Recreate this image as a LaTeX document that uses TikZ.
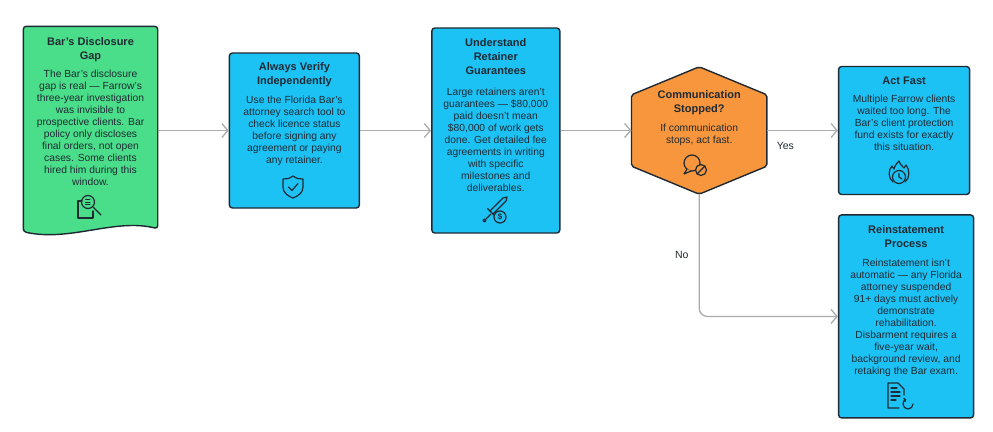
\documentclass[tikz,border=0pt]{standalone}
\usepackage{fontspec}
\setmainfont{Liberation Sans}
\usetikzlibrary{shapes,arrows,arrows.meta,positioning}
\definecolor{gapgreen}{HTML}{4ADE8A}
\definecolor{stepblue}{HTML}{1DC2F5}
\definecolor{askorange}{HTML}{F7963C}
\definecolor{edge}{HTML}{1E2933}
\definecolor{wire}{HTML}{ABABAB}
\definecolor{ink}{HTML}{1F2A33}
\tikzstyle{block} = [rectangle, draw=edge, fill=stepblue, line width=1.4pt,
    rounded corners=3pt, inner sep=0pt]
\tikzstyle{line} = [draw=wire, line width=1.3pt, -{Straight Barb[length=6pt,width=14pt]}]
\tikzstyle{title} = [text=ink, font=\fontsize{11}{13.8}\selectfont\bfseries,
    align=center, anchor=north, inner sep=0pt]
\tikzstyle{body} = [text=ink, font=\fontsize{10.3}{12}\selectfont,
    align=center, anchor=north, inner sep=0pt]
\tikzstyle{answer} = [text=ink, font=\fontsize{10.5}{12}\selectfont, inner sep=0pt]
\tikzstyle{icon} = [draw=ink, line width=1.2pt, line cap=round, line join=round]

\begin{document}
\begin{tikzpicture}[x=1pt, y=-1pt, node distance=71pt]
		\useasboundingbox (0,0) rectangle (993,431);

		\node [block, draw=none, fill=none, minimum width=133pt, minimum height=207pt] (gap) at (90.5,130.5) {};
		\draw [block, fill=gapgreen] ([yshift=3pt]gap.south west) -- (gap.north west) -- (gap.north east)
			-- ([yshift=6pt]gap.south east) .. controls (115,218) and (70,242) .. ([yshift=3pt]gap.south west) -- cycle;
		\node [block, minimum width=130pt, minimum height=155pt, right=of gap] (verify) {};
		\node [block, minimum width=128pt, minimum height=205pt, right=of verify] (retainer) {};
		\node [inner sep=0pt, minimum width=135pt, minimum height=127pt, right=of retainer] (ask) {};
		\draw [block, fill=askorange, rounded corners=2pt] (ask.north) -- ([yshift=-28pt]ask.north east)
			-- ([yshift=28pt]ask.south east) -- (ask.south) -- ([yshift=28pt]ask.south west)
			-- ([yshift=-28pt]ask.north west) -- cycle;
		\node [block, minimum width=131pt, minimum height=128pt, right=of ask] (fast) {};
		\node [block, minimum width=135pt, minimum height=203pt, below=19pt of fast.south west, anchor=north west] (reinstate) {};

		\node [title, below=11pt of gap.north] (gap-title) {Bar's Disclosure\\Gap};
		\node [body, below=43.5pt of gap.north] (gap-text) {The Bar's disclosure\\gap is real — Farrow's\\three-year investigation\\was invisible to\\prospective clients. Bar\\policy only discloses\\final orders, not open\\cases. Some clients\\hired him during this\\window.};
		\node [title, below=10pt of verify.north] (verify-title) {Always Verify\\Independently};
		\node [body, below=43.5pt of verify.north] (verify-text) {Use the Florida Bar's\\attorney search tool to\\check licence status\\before signing any\\agreement or paying\\any retainer.};
		\node [title, below=11pt of retainer.north] (retainer-title) {Understand\\Retainer\\Guarantees};
		\node [body, below=60.5pt of retainer.north] (retainer-text) {Large retainers aren't\\guarantees — \$80,000\\paid doesn't mean\\\$80,000 of work gets\\done. Get detailed fee\\agreements in writing\\with specific\\milestones and\\deliverables.};
		\node [title, below=24pt of ask.north] (ask-title) {Communication\\Stopped?};
		\node [body, below=57.5pt of ask.north] (ask-text) {If communication\\stops, act fast.};
		\node [title, below=11pt of fast.north] (fast-title) {Act Fast};
		\node [body, below=29.5pt of fast.north] (fast-text) {Multiple Farrow clients\\waited too long. The\\Bar's client protection\\fund exists for exactly\\this situation.};
		\node [title, below=11pt of reinstate.north] (reinstate-title) {Reinstatement\\Process};
		\node [body, below=44.5pt of reinstate.north] (reinstate-text) {Reinstatement isn't\\automatic — any Florida\\attorney suspended\\91+ days must actively\\demonstrate\\rehabilitation.\\Disbarment requires a\\five-year wait,\\background review, and\\retaking the Bar exam.};

		% icons
		\begin{scope}[shift={(90,207)}]
			\draw [icon] (-8,-6) -- (-12,-6) -- (-12,11) -- (3,11) -- (3,4);
			\draw [icon] (-2,-5) circle (6.5pt);
			\draw [icon] (3,0) -- (11,8);
			\draw [icon, line width=1pt] (-4.5,-7.5) -- (0,-7.5) (-4.5,-5) -- (0,-5) (-4.5,-2.5) -- (0,-2.5);
		\end{scope}
		\begin{scope}[shift={(293,187)}]
			\draw [icon] (0,-11) .. controls (-4,-8) and (-7,-8) .. (-10,-8) -- (-10,0)
				.. controls (-10,6) and (-5,9) .. (0,11) .. controls (5,9) and (10,6) .. (10,0)
				-- (10,-8) .. controls (7,-8) and (4,-8) .. cycle;
			\draw [icon] (-4.5,0) -- (-1,3.5) -- (5,-3.5);
		\end{scope}
		\begin{scope}[shift={(493,212)}]
			\draw [icon] (-3,-1) -- (10,-14) -- (14,-15) -- (13,-11) -- (0,2);
			\draw [icon] (-5.5,-3.5) -- (2.5,4.5);
			\draw [icon] (-2,2) -- (-7,7);
			\draw [icon] (-8.5,8.5) circle (1.5pt);
			\draw [icon, fill=stepblue] (7,5) circle (6pt);
			\node [text=ink, font=\fontsize{8}{8}\selectfont\bfseries, inner sep=0pt] (coin) at (7,5) {\$};
		\end{scope}
		\begin{scope}[shift={(695,166)}]
			\draw [icon] (-3,-3) circle (8pt);
			\draw [icon, fill=askorange] (-8,3) -- (-11,8) -- (-4,5);
			\draw [icon, fill=askorange] (6,4) circle (5.5pt);
			\draw [icon] (2.1,7.9) -- (9.9,0.1);
		\end{scope}
		\begin{scope}[shift={(899,173)}]
			\draw [icon] (-6,9) .. controls (-11,5) and (-11,-3) .. (-7,-7) -- (-5,-4)
				.. controls (-4,-8) and (-2,-10) .. (0,-12) .. controls (1,-8) and (4,-7) .. (5,-5)
				-- (7,-8) .. controls (11,-3) and (11,5) .. (6,9);
			\draw [icon, fill=stepblue] (0,4) circle (6.5pt);
			\draw [icon] (0,0.5) -- (0,4) -- (3,6);
		\end{scope}
		\begin{scope}[shift={(900,395)}]
			\draw [icon] (-1,13) -- (-12,13) -- (-12,-12) -- (-2,-12) -- (4,-6) -- (4,0);
			\draw [icon] (-9,-7) -- (-3,-7) (-9,-3) -- (0,-3) (-9,1) -- (0,1) (-9,5) -- (-4,5);
			\draw [icon, -{Straight Barb[length=1.5pt,width=4pt]}] (13,9) arc [start angle=0, end angle=-250, radius=5pt];
		\end{scope}

		\path [line] (gap) -- (verify);
		\path [line] (verify) -- (retainer);
		\path [line] (retainer) -- (ask);
		\path [line] (ask) -- node [answer, pos=0.26, below=11pt] {Yes} (fast);
		\path [line, rounded corners=8pt] (ask) |- node [answer, pos=0.25, left=10pt] {No} (reinstate);
	\end{tikzpicture}
\end{document}
